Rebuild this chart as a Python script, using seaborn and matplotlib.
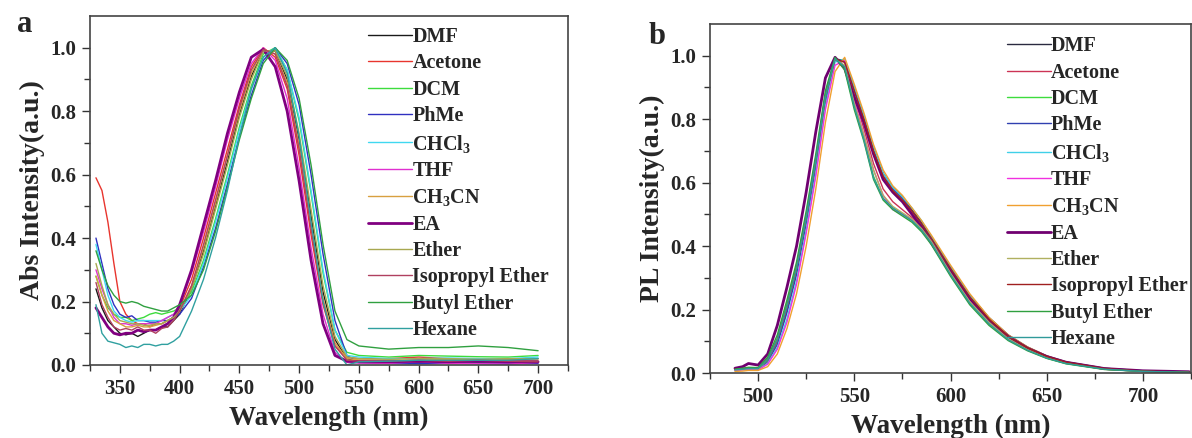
import numpy as np
import pandas as pd
import matplotlib
matplotlib.use("Agg")
import matplotlib.pyplot as plt
import seaborn as sns

# ---------------- data ----------------
SOLVENTS = ["DMF", "Acetone", "DCM", "PhMe", "CHCl$_3$", "THF", "CH$_3$CN",
            "EA", "Ether", "Isopropyl Ether", "Butyl Ether", "Hexane"]

COLORS_A = ["#1a1a1a", "#e8352e", "#3ddc3d", "#3030c0", "#40d8f0", "#e030d0",
            "#d8a040", "#800080", "#a8a850", "#b04060", "#30a040", "#30a0a0"]
COLORS_B = ["#2a2a40", "#cc3355", "#3ddc3d", "#3040b0", "#40d0e8", "#f030e0",
            "#f0a030", "#700070", "#b0b060", "#a02020", "#30a040", "#309a9a"]

W_ABS = [330, 335, 340, 345, 350, 355, 360, 365, 370, 375, 380, 385, 390, 395,
         400, 410, 420, 430, 440, 450, 460, 470, 480, 490, 500, 510, 520, 530,
         540, 550, 575, 600, 625, 650, 675, 700]

abs_dmf = [0.24, 0.18, 0.14, 0.12, 0.10, 0.095, 0.10, 0.09, 0.10, 0.11, 0.11, 0.12, 0.12, 0.14,
           0.16, 0.24, 0.36, 0.50, 0.64, 0.79, 0.91, 0.99, 0.99, 0.90, 0.71, 0.47, 0.23, 0.08, 0.02, 0.012,
           0.01, 0.008, 0.01, 0.009, 0.01, 0.01]
abs_acetone = [0.59, 0.55, 0.45, 0.32, 0.20, 0.16, 0.14, 0.13, 0.13, 0.12, 0.13, 0.13, 0.14, 0.15,
               0.18, 0.27, 0.40, 0.54, 0.68, 0.82, 0.94, 1.0, 0.97, 0.87, 0.66, 0.41, 0.19, 0.06, 0.025, 0.02,
               0.02, 0.025, 0.02, 0.02, 0.018, 0.02]
abs_dcm = [0.28, 0.22, 0.18, 0.16, 0.15, 0.15, 0.14, 0.145, 0.15, 0.16, 0.165, 0.16, 0.165, 0.17,
           0.18, 0.23, 0.33, 0.46, 0.60, 0.75, 0.88, 0.98, 1.0, 0.93, 0.77, 0.54, 0.29, 0.11, 0.04, 0.03,
           0.025, 0.03, 0.028, 0.026, 0.025, 0.03]
abs_phme = [0.40, 0.32, 0.24, 0.19, 0.16, 0.15, 0.155, 0.14, 0.14, 0.135, 0.135, 0.14, 0.14, 0.15,
            0.16, 0.21, 0.31, 0.43, 0.57, 0.72, 0.85, 0.96, 1.0, 0.95, 0.82, 0.60, 0.35, 0.14, 0.03, 0.008,
            0.005, 0.004, 0.006, 0.005, 0.004, 0.005]
abs_chcl3 = [0.38, 0.30, 0.22, 0.17, 0.15, 0.14, 0.135, 0.14, 0.14, 0.14, 0.14, 0.14, 0.15, 0.16,
             0.17, 0.22, 0.32, 0.45, 0.59, 0.74, 0.87, 0.97, 1.0, 0.93, 0.78, 0.55, 0.30, 0.11, 0.03, 0.025,
             0.02, 0.02, 0.022, 0.02, 0.02, 0.025]
abs_thf = [0.30, 0.24, 0.19, 0.15, 0.13, 0.13, 0.125, 0.13, 0.13, 0.13, 0.13, 0.14, 0.15, 0.16,
           0.19, 0.29, 0.42, 0.56, 0.71, 0.84, 0.95, 1.0, 0.96, 0.84, 0.62, 0.37, 0.16, 0.04, 0.008, 0.006,
           0.005, 0.01, 0.005, 0.004, 0.003, 0.008]
abs_ch3cn = [0.28, 0.22, 0.17, 0.14, 0.13, 0.12, 0.12, 0.125, 0.12, 0.12, 0.125, 0.13, 0.14, 0.15,
             0.17, 0.25, 0.37, 0.51, 0.66, 0.80, 0.92, 0.995, 0.98, 0.89, 0.69, 0.44, 0.21, 0.07, 0.02, 0.016,
             0.015, 0.015, 0.018, 0.015, 0.015, 0.015]
abs_ea = [0.18, 0.15, 0.12, 0.10, 0.095, 0.10, 0.10, 0.11, 0.105, 0.11, 0.11, 0.12, 0.13, 0.15,
          0.19, 0.30, 0.44, 0.58, 0.73, 0.86, 0.97, 0.995, 0.94, 0.80, 0.58, 0.33, 0.13, 0.03, 0.012, 0.01,
          0.01, 0.012, 0.01, 0.012, 0.01, 0.01]
abs_ether = [0.32, 0.25, 0.19, 0.16, 0.14, 0.135, 0.13, 0.13, 0.125, 0.125, 0.13, 0.13, 0.14, 0.15,
             0.17, 0.24, 0.35, 0.49, 0.63, 0.78, 0.90, 0.99, 0.99, 0.91, 0.73, 0.49, 0.25, 0.09, 0.025, 0.02,
             0.018, 0.02, 0.02, 0.018, 0.02, 0.02]
abs_ipe = [0.26, 0.19, 0.15, 0.12, 0.11, 0.115, 0.11, 0.12, 0.11, 0.11, 0.10, 0.115, 0.12, 0.14,
           0.17, 0.25, 0.38, 0.52, 0.66, 0.81, 0.93, 0.995, 0.98, 0.88, 0.68, 0.43, 0.20, 0.06, 0.015, 0.012,
           0.012, 0.015, 0.012, 0.015, 0.012, 0.01]
abs_butyl = [0.36, 0.30, 0.25, 0.22, 0.20, 0.195, 0.20, 0.195, 0.185, 0.18, 0.175, 0.17, 0.17, 0.18,
             0.19, 0.22, 0.30, 0.42, 0.56, 0.71, 0.84, 0.95, 1.0, 0.96, 0.84, 0.63, 0.38, 0.17, 0.08, 0.06,
             0.05, 0.055, 0.055, 0.06, 0.055, 0.045]
abs_hexane = [0.19, 0.10, 0.075, 0.07, 0.065, 0.055, 0.06, 0.055, 0.065, 0.065, 0.06, 0.065, 0.065, 0.075,
              0.09, 0.17, 0.27, 0.40, 0.55, 0.72, 0.87, 0.97, 1.0, 0.92, 0.72, 0.45, 0.20, 0.05, 0.0, 0.01,
              0.012, 0.015, 0.015, 0.015, 0.015, 0.02]

W_PL = [488, 492, 495, 500, 505, 510, 515, 520, 525, 530, 535, 540, 545, 550, 555, 560,
        565, 570, 575, 580, 585, 590, 600, 610, 620, 630, 640, 650, 660, 680, 700, 724]

pl_dmf = [0.012, 0.014, 0.015, 0.014, 0.04, 0.10, 0.20, 0.33, 0.49, 0.67, 0.87, 0.99, 0.985, 0.90, 0.81, 0.71,
          0.63, 0.585, 0.555, 0.515, 0.475, 0.43, 0.335, 0.245, 0.175, 0.12, 0.082, 0.054, 0.035, 0.015, 0.007, 0.003]
pl_acetone = [0.01, 0.012, 0.014, 0.013, 0.038, 0.10, 0.20, 0.32, 0.48, 0.66, 0.86, 0.99, 0.98, 0.87, 0.77, 0.66,
              0.58, 0.54, 0.515, 0.49, 0.46, 0.42, 0.325, 0.235, 0.165, 0.112, 0.076, 0.05, 0.032, 0.013, 0.006, 0.003]
pl_dcm = [0.01, 0.012, 0.015, 0.015, 0.045, 0.11, 0.22, 0.34, 0.50, 0.68, 0.88, 0.995, 0.96, 0.84, 0.74, 0.62,
          0.55, 0.52, 0.50, 0.48, 0.45, 0.41, 0.31, 0.22, 0.155, 0.105, 0.072, 0.047, 0.03, 0.012, 0.005, 0.002]
pl_phme = [0.01, 0.012, 0.012, 0.012, 0.035, 0.09, 0.19, 0.31, 0.47, 0.65, 0.85, 0.99, 0.98, 0.89, 0.80, 0.70,
           0.62, 0.58, 0.55, 0.51, 0.47, 0.42, 0.33, 0.24, 0.17, 0.115, 0.08, 0.052, 0.034, 0.014, 0.006, 0.003]
pl_chcl3 = [0.008, 0.01, 0.01, 0.01, 0.03, 0.08, 0.17, 0.29, 0.45, 0.63, 0.84, 0.98, 0.99, 0.90, 0.81, 0.71,
            0.63, 0.585, 0.555, 0.52, 0.48, 0.43, 0.335, 0.245, 0.17, 0.115, 0.08, 0.052, 0.033, 0.013, 0.006, 0.003]
pl_thf = [0.008, 0.01, 0.012, 0.01, 0.028, 0.075, 0.16, 0.28, 0.44, 0.62, 0.83, 0.97, 0.985, 0.86, 0.75, 0.64,
          0.56, 0.515, 0.50, 0.485, 0.455, 0.415, 0.32, 0.23, 0.16, 0.11, 0.075, 0.05, 0.032, 0.013, 0.006, 0.003]
pl_ch3cn = [0.005, 0.006, 0.008, 0.008, 0.02, 0.06, 0.14, 0.25, 0.40, 0.58, 0.79, 0.95, 0.995, 0.91, 0.82, 0.72,
            0.64, 0.59, 0.56, 0.52, 0.48, 0.435, 0.34, 0.25, 0.175, 0.12, 0.082, 0.054, 0.035, 0.015, 0.006, 0.003]
pl_ea = [0.015, 0.02, 0.03, 0.025, 0.06, 0.15, 0.27, 0.40, 0.57, 0.76, 0.93, 0.995, 0.96, 0.87, 0.79, 0.69,
         0.61, 0.57, 0.54, 0.50, 0.46, 0.41, 0.32, 0.235, 0.165, 0.115, 0.078, 0.052, 0.034, 0.014, 0.007, 0.004]
pl_ether = [0.01, 0.012, 0.014, 0.013, 0.04, 0.105, 0.21, 0.33, 0.49, 0.67, 0.87, 0.99, 0.97, 0.85, 0.75, 0.64,
            0.56, 0.525, 0.505, 0.485, 0.455, 0.415, 0.315, 0.225, 0.16, 0.108, 0.074, 0.048, 0.031, 0.012, 0.005, 0.002]
pl_ipe = [0.012, 0.014, 0.016, 0.015, 0.042, 0.105, 0.21, 0.33, 0.49, 0.67, 0.87, 0.99, 0.98, 0.89, 0.80, 0.70,
          0.62, 0.575, 0.545, 0.51, 0.47, 0.425, 0.33, 0.24, 0.17, 0.115, 0.079, 0.052, 0.034, 0.014, 0.006, 0.003]
pl_butyl = [0.012, 0.015, 0.018, 0.017, 0.05, 0.12, 0.23, 0.35, 0.51, 0.69, 0.89, 0.995, 0.955, 0.83, 0.73, 0.61,
            0.545, 0.515, 0.495, 0.475, 0.445, 0.405, 0.305, 0.215, 0.15, 0.102, 0.07, 0.046, 0.029, 0.011, 0.005, 0.002]
pl_hexane = [0.01, 0.012, 0.014, 0.014, 0.042, 0.105, 0.21, 0.33, 0.49, 0.67, 0.87, 0.99, 0.965, 0.84, 0.735, 0.615,
             0.55, 0.52, 0.50, 0.48, 0.45, 0.41, 0.31, 0.22, 0.155, 0.105, 0.072, 0.047, 0.03, 0.012, 0.005, 0.002]

ABS = [abs_dmf, abs_acetone, abs_dcm, abs_phme, abs_chcl3, abs_thf, abs_ch3cn,
       abs_ea, abs_ether, abs_ipe, abs_butyl, abs_hexane]
PL = [pl_dmf, pl_acetone, pl_dcm, pl_phme, pl_chcl3, pl_thf, pl_ch3cn,
      pl_ea, pl_ether, pl_ipe, pl_butyl, pl_hexane]

X_TICKS_A = [350, 400, 450, 500, 550, 600, 650, 700]
X_TICKS_B = [500, 550, 600, 650, 700]
Y_TICKS = [0.0, 0.2, 0.4, 0.6, 0.8, 1.0]

# ---------------- style ----------------
sns.set_theme(style="ticks")
SERIF = ["Liberation Serif", "DejaVu Serif"]
plt.rcParams["font.family"] = SERIF
plt.rcParams["font.weight"] = "bold"
plt.rcParams["mathtext.fontset"] = "custom"
plt.rcParams["mathtext.rm"] = "Liberation Serif:bold"
plt.rcParams["mathtext.bf"] = "Liberation Serif:bold"
plt.rcParams["mathtext.it"] = "Liberation Serif:bold:italic"

fig = plt.figure(figsize=(11.92, 4.38), dpi=100)
ax_a = fig.add_axes([0.0755, 0.1667, 0.401, 0.7968])
ax_b = fig.add_axes([0.5956, 0.1484, 0.4036, 0.7968])


def draw(ax, wl, series, colors):
    rows = []
    for name, vals in zip(SOLVENTS, series):
        for w, v in zip(wl, vals):
            rows.append((name, w, v))
    df = pd.DataFrame(rows, columns=["solvent", "wl", "val"])
    for name, col in zip(SOLVENTS, colors):
        sub = df[df["solvent"] == name]
        lw = 2.0 if name == "EA" else 1.0
        sns.lineplot(data=sub, x="wl", y="val", color=col, lw=lw, label=name,
                     estimator=None, sort=False, ax=ax)


draw(ax_a, W_ABS, ABS, COLORS_A)
draw(ax_b, W_PL, PL, COLORS_B)


def style(ax, xlim, xticks, ylabel, letter, leg_x, leg_y, letter_xy):
    ax.set_xlim(*xlim)
    ax.set_ylim(0, 1.1)
    ax.set_xticks(xticks)
    ax.set_yticks(Y_TICKS)
    ax.set_xticks([t + 25 for t in xticks] + [xticks[0] - 25], minor=True)
    ax.set_yticks([0.1, 0.3, 0.5, 0.7, 0.9], minor=True)
    ax.set_yticklabels([f"{t:.1f}" for t in Y_TICKS])
    ax.tick_params(axis="both", which="major", direction="out", length=6, width=1.0,
                   labelsize=15, color="#333333", pad=4)
    ax.tick_params(axis="both", which="minor", direction="out", length=4, width=1.0,
                   color="#333333")
    for lab in ax.get_xticklabels() + ax.get_yticklabels():
        lab.set_fontweight("bold")
    for s in ax.spines.values():
        s.set_visible(True)
        s.set_linewidth(1.2)
        s.set_color("#444444")
    ax.set_xlabel("Wavelength (nm)", fontsize=19.5, fontweight="bold", labelpad=5)
    ax.set_ylabel(ylabel, fontsize=20, fontweight="bold", labelpad=4)
    ax.legend(loc="upper left", bbox_to_anchor=(leg_x, leg_y), frameon=False,
              prop={"family": SERIF, "weight": "bold", "size": 14.5},
              handlelength=2.2, handletextpad=0.0, labelspacing=0.315,
              borderpad=0.0, borderaxespad=0.0)
    fig.text(letter_xy[0], letter_xy[1], letter, fontsize=22, fontweight="bold",
             ha="center", va="center", family=SERIF)


style(ax_a, (330, 700), X_TICKS_A, "Abs Intensity(a.u.)", "a", 0.582, 0.968,
      (25 / 1192, 1 - 25 / 438))
style(ax_b, (488, 724), X_TICKS_B, "PL Intensity(a.u.)", "b", 0.617, 0.965,
      (657 / 1192, 1 - 36 / 438))

fig.savefig("out.png", dpi=100)
